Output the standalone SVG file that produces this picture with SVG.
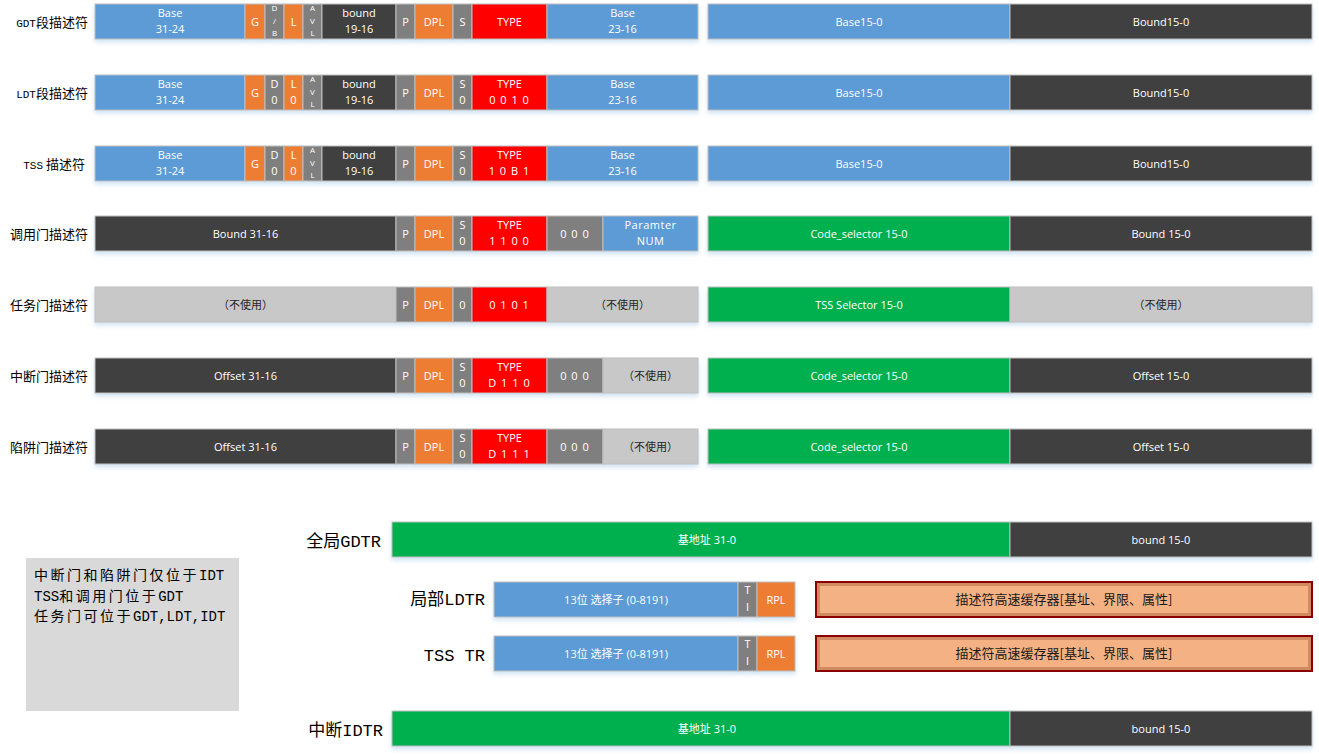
<svg xmlns="http://www.w3.org/2000/svg" width="1319" height="756" viewBox="0 0 1319 756">
<defs>
<style>
.c{stroke:#bfbfbf;stroke-width:1}
.blue{fill:#5b9bd5}.org{fill:#ed7d31}.gry{fill:#7f7f7f}.drk{fill:#404040}.red{fill:#ff0000}.lgt{fill:#c8c8c8}.grn{fill:#00b050}
.t{font-family:"Open Sans","Noto Sans CJK SC",sans-serif;font-size:11px;fill:#ffffff;text-anchor:middle}
.td{fill:#262626}
.tiny{font-size:8px}
.lbl{font-family:"Noto Sans CJK SC",sans-serif;font-size:13px;fill:#000000;text-anchor:end}
.m{font-family:"Liberation Mono",monospace;font-size:11px}
.big{font-family:"Liberation Mono","Noto Sans CJK SC",monospace;font-size:17px;fill:#000000;text-anchor:end}
.note{font-family:"Noto Sans CJK SC",sans-serif;font-size:14px;letter-spacing:2.5px;fill:#000000}
.nm{font-family:"Liberation Mono",monospace;font-size:14px;letter-spacing:0}
.cache{font-family:"Noto Sans CJK SC",sans-serif;font-size:13px;fill:#1a1a1a;text-anchor:middle}
</style>
<filter id="sh" x="-5%" y="-30%" width="110%" height="180%">
<feDropShadow dx="0" dy="3" stdDeviation="2" flood-color="#9dc3e6" flood-opacity="0.45"/>
</filter>
</defs>

<!-- Row 1 GDT -->
<g id="gdt-desc">
<text class="lbl" x="88" y="26.5"><tspan class="m">GDT</tspan>段描述符</text>
<g filter="url(#sh)">
<rect class="c blue" x="95" y="4" width="150" height="35"/>
<rect class="c org" x="245" y="4" width="20" height="35"/>
<rect class="c gry" x="265" y="4" width="19" height="35"/>
<rect class="c org" x="284" y="4" width="19" height="35"/>
<rect class="c gry" x="303" y="4" width="19" height="35"/>
<rect class="c drk" x="322" y="4" width="74" height="35"/>
<rect class="c gry" x="396" y="4" width="19" height="35"/>
<rect class="c org" x="415" y="4" width="38" height="35"/>
<rect class="c gry" x="453" y="4" width="19" height="35"/>
<rect class="c red" x="472" y="4" width="75" height="35"/>
<rect class="c blue" x="547" y="4" width="151" height="35"/>
<rect class="c blue" x="708" y="4" width="302" height="35"/>
<rect class="c drk" x="1010" y="4" width="302" height="35"/>
</g>
<text class="t" x="170" y="17.3">Base</text><text class="t" x="170" y="33">31-24</text>
<text class="t" x="255" y="25.5">G</text>
<text class="t tiny" x="274.5" y="11">D</text><text class="t tiny" x="274.5" y="23.5">/</text><text class="t tiny" x="274.5" y="36">B</text>
<text class="t" x="293.5" y="25.5">L</text>
<text class="t tiny" x="312.5" y="11">A</text><text class="t tiny" x="312.5" y="23.5">V</text><text class="t tiny" x="312.5" y="36">L</text>
<text class="t" x="359" y="17.3">bound</text><text class="t" x="359" y="33">19-16</text>
<text class="t" x="405.5" y="25.5">P</text>
<text class="t" x="434" y="25.5">DPL</text>
<text class="t" x="462.5" y="25.5">S</text>
<text class="t" x="509.5" y="25.5">TYPE</text>
<text class="t" x="622.5" y="17.3">Base</text><text class="t" x="622.5" y="33">23-16</text>
<text class="t" x="859" y="25.5">Base15-0</text>
<text class="t" x="1161" y="25.5">Bound15-0</text>
</g>

<!-- Row 2 LDT -->
<g id="ldt-desc">
<text class="lbl" x="88" y="97.5"><tspan class="m">LDT</tspan>段描述符</text>
<g filter="url(#sh)">
<rect class="c blue" x="95" y="75" width="150" height="35"/>
<rect class="c org" x="245" y="75" width="20" height="35"/>
<rect class="c gry" x="265" y="75" width="19" height="35"/>
<rect class="c org" x="284" y="75" width="19" height="35"/>
<rect class="c gry" x="303" y="75" width="19" height="35"/>
<rect class="c drk" x="322" y="75" width="74" height="35"/>
<rect class="c gry" x="396" y="75" width="19" height="35"/>
<rect class="c org" x="415" y="75" width="38" height="35"/>
<rect class="c gry" x="453" y="75" width="19" height="35"/>
<rect class="c red" x="472" y="75" width="75" height="35"/>
<rect class="c blue" x="547" y="75" width="151" height="35"/>
<rect class="c blue" x="708" y="75" width="302" height="35"/>
<rect class="c drk" x="1010" y="75" width="302" height="35"/>
</g>
<text class="t" x="170" y="88.3">Base</text><text class="t" x="170" y="104">31-24</text>
<text class="t" x="255" y="96.5">G</text>
<text class="t" x="274.5" y="88.3">D</text><text class="t" x="274.5" y="104">0</text>
<text class="t" x="293.5" y="88.3">L</text><text class="t" x="293.5" y="104">0</text>
<text class="t tiny" x="312.5" y="82">A</text><text class="t tiny" x="312.5" y="94.5">V</text><text class="t tiny" x="312.5" y="107">L</text>
<text class="t" x="359" y="88.3">bound</text><text class="t" x="359" y="104">19-16</text>
<text class="t" x="405.5" y="96.5">P</text>
<text class="t" x="434" y="96.5">DPL</text>
<text class="t" x="462.5" y="88.3">S</text><text class="t" x="462.5" y="104">0</text>
<text class="t" x="509.5" y="88.3">TYPE</text><text class="t" x="509.5" y="104" letter-spacing="1">0 0 1 0</text>
<text class="t" x="622.5" y="88.3">Base</text><text class="t" x="622.5" y="104">23-16</text>
<text class="t" x="859" y="96.5">Base15-0</text>
<text class="t" x="1161" y="96.5">Bound15-0</text>
</g>

<!-- Row 3 TSS -->
<g id="tss-desc">
<text class="lbl" x="85" y="168.5"><tspan class="m">TSS</tspan>  描述符</text>
<g filter="url(#sh)">
<rect class="c blue" x="95" y="146" width="150" height="35"/>
<rect class="c org" x="245" y="146" width="20" height="35"/>
<rect class="c gry" x="265" y="146" width="19" height="35"/>
<rect class="c org" x="284" y="146" width="19" height="35"/>
<rect class="c gry" x="303" y="146" width="19" height="35"/>
<rect class="c drk" x="322" y="146" width="74" height="35"/>
<rect class="c gry" x="396" y="146" width="19" height="35"/>
<rect class="c org" x="415" y="146" width="38" height="35"/>
<rect class="c gry" x="453" y="146" width="19" height="35"/>
<rect class="c red" x="472" y="146" width="75" height="35"/>
<rect class="c blue" x="547" y="146" width="151" height="35"/>
<rect class="c blue" x="708" y="146" width="302" height="35"/>
<rect class="c drk" x="1010" y="146" width="302" height="35"/>
</g>
<text class="t" x="170" y="159.3">Base</text><text class="t" x="170" y="175">31-24</text>
<text class="t" x="255" y="167.5">G</text>
<text class="t" x="274.5" y="159.3">D</text><text class="t" x="274.5" y="175">0</text>
<text class="t" x="293.5" y="159.3">L</text><text class="t" x="293.5" y="175">0</text>
<text class="t tiny" x="312.5" y="153">A</text><text class="t tiny" x="312.5" y="165.5">V</text><text class="t tiny" x="312.5" y="178">L</text>
<text class="t" x="359" y="159.3">bound</text><text class="t" x="359" y="175">19-16</text>
<text class="t" x="405.5" y="167.5">P</text>
<text class="t" x="434" y="167.5">DPL</text>
<text class="t" x="462.5" y="159.3">S</text><text class="t" x="462.5" y="175">0</text>
<text class="t" x="509.5" y="159.3">TYPE</text><text class="t" x="509.5" y="175" letter-spacing="1">1 0 B 1</text>
<text class="t" x="622.5" y="159.3">Base</text><text class="t" x="622.5" y="175">23-16</text>
<text class="t" x="859" y="167.5">Base15-0</text>
<text class="t" x="1161" y="167.5">Bound15-0</text>
</g>

<!-- Row 4 call gate -->
<g id="call-gate">
<text class="lbl" x="88" y="238.5">调用门描述符</text>
<g filter="url(#sh)">
<rect class="c drk" x="95" y="216" width="301" height="35"/>
<rect class="c gry" x="396" y="216" width="19" height="35"/>
<rect class="c org" x="415" y="216" width="38" height="35"/>
<rect class="c gry" x="453" y="216" width="19" height="35"/>
<rect class="c red" x="472" y="216" width="75" height="35"/>
<rect class="c gry" x="547" y="216" width="56" height="35"/>
<rect class="c blue" x="603" y="216" width="95" height="35"/>
<rect class="c grn" x="708" y="216" width="302" height="35"/>
<rect class="c drk" x="1010" y="216" width="302" height="35"/>
</g>
<text class="t" x="245.5" y="237.5">Bound 31-16</text>
<text class="t" x="405.5" y="237.5">P</text>
<text class="t" x="434" y="237.5">DPL</text>
<text class="t" x="462.5" y="229.3">S</text><text class="t" x="462.5" y="245">0</text>
<text class="t" x="509.5" y="229.3">TYPE</text><text class="t" x="509.5" y="245" letter-spacing="1">1 1 0 0</text>
<text class="t" x="575" y="237.5" letter-spacing="1">0 0 0</text>
<text class="t" x="650.5" y="229.3" letter-spacing="0.5">Paramter</text><text class="t" x="650.5" y="245" letter-spacing="0.5">NUM</text>
<text class="t" x="859" y="237.5">Code_selector 15-0</text>
<text class="t" x="1161" y="237.5">Bound 15-0</text>
</g>

<!-- Row 5 task gate -->
<g id="task-gate">
<text class="lbl" x="88" y="309.5">任务门描述符</text>
<g filter="url(#sh)">
<rect class="c lgt" x="95" y="287" width="301" height="35"/>
<rect class="c gry" x="396" y="287" width="19" height="35"/>
<rect class="c org" x="415" y="287" width="38" height="35"/>
<rect class="c gry" x="453" y="287" width="19" height="35"/>
<rect class="c red" x="472" y="287" width="75" height="35"/>
<rect class="c lgt" x="547" y="287" width="151" height="35"/>
<rect class="c grn" x="708" y="287" width="302" height="35"/>
<rect class="c lgt" x="1010" y="287" width="302" height="35"/>
</g>
<text class="t td" x="245.5" y="308.5">（不使用）</text>
<text class="t" x="405.5" y="308.5">P</text>
<text class="t" x="434" y="308.5">DPL</text>
<text class="t" x="462.5" y="308.5">0</text>
<text class="t" x="509.5" y="308.5" letter-spacing="1">0 1 0 1</text>
<text class="t td" x="622.5" y="308.5">（不使用）</text>
<text class="t" x="859" y="308.5">TSS Selector 15-0</text>
<text class="t td" x="1161" y="308.5">（不使用）</text>
</g>

<!-- Row 6 interrupt gate -->
<g id="int-gate">
<text class="lbl" x="88" y="380.5">中断门描述符</text>
<g filter="url(#sh)">
<rect class="c drk" x="95" y="358" width="301" height="35"/>
<rect class="c gry" x="396" y="358" width="19" height="35"/>
<rect class="c org" x="415" y="358" width="38" height="35"/>
<rect class="c gry" x="453" y="358" width="19" height="35"/>
<rect class="c red" x="472" y="358" width="75" height="35"/>
<rect class="c gry" x="547" y="358" width="56" height="35"/>
<rect class="c lgt" x="603" y="358" width="95" height="35"/>
<rect class="c grn" x="708" y="358" width="302" height="35"/>
<rect class="c drk" x="1010" y="358" width="302" height="35"/>
</g>
<text class="t" x="245.5" y="379.5">Offset 31-16</text>
<text class="t" x="405.5" y="379.5">P</text>
<text class="t" x="434" y="379.5">DPL</text>
<text class="t" x="462.5" y="371.3">S</text><text class="t" x="462.5" y="387">0</text>
<text class="t" x="509.5" y="371.3">TYPE</text><text class="t" x="509.5" y="387" letter-spacing="1">D 1 1 0</text>
<text class="t" x="575" y="379.5" letter-spacing="1">0 0 0</text>
<text class="t td" x="650.5" y="379.5">（不使用）</text>
<text class="t" x="859" y="379.5">Code_selector 15-0</text>
<text class="t" x="1161" y="379.5">Offset 15-0</text>
</g>

<!-- Row 7 trap gate -->
<g id="trap-gate">
<text class="lbl" x="88" y="451.5">陷阱门描述符</text>
<g filter="url(#sh)">
<rect class="c drk" x="95" y="429" width="301" height="35"/>
<rect class="c gry" x="396" y="429" width="19" height="35"/>
<rect class="c org" x="415" y="429" width="38" height="35"/>
<rect class="c gry" x="453" y="429" width="19" height="35"/>
<rect class="c red" x="472" y="429" width="75" height="35"/>
<rect class="c gry" x="547" y="429" width="56" height="35"/>
<rect class="c lgt" x="603" y="429" width="95" height="35"/>
<rect class="c grn" x="708" y="429" width="302" height="35"/>
<rect class="c drk" x="1010" y="429" width="302" height="35"/>
</g>
<text class="t" x="245.5" y="450.5">Offset 31-16</text>
<text class="t" x="405.5" y="450.5">P</text>
<text class="t" x="434" y="450.5">DPL</text>
<text class="t" x="462.5" y="442.3">S</text><text class="t" x="462.5" y="458">0</text>
<text class="t" x="509.5" y="442.3">TYPE</text><text class="t" x="509.5" y="458" letter-spacing="1">D 1 1 1</text>
<text class="t" x="575" y="450.5" letter-spacing="1">0 0 0</text>
<text class="t td" x="650.5" y="450.5">（不使用）</text>
<text class="t" x="859" y="450.5">Code_selector 15-0</text>
<text class="t" x="1161" y="450.5">Offset 15-0</text>
</g>

<!-- Note -->
<g id="note">
<rect x="26" y="558" width="213" height="153" fill="#d9d9d9"/>
<text class="note" x="34" y="580">中断门和陷阱门仅位于<tspan class="nm">IDT</tspan></text>
<text class="note" x="34" y="600.5"><tspan class="nm">TSS</tspan>和调用门位于<tspan class="nm">GDT</tspan></text>
<text class="note" x="34" y="620.5">任务门可位于<tspan class="nm">GDT,LDT,IDT</tspan></text>
</g>

<!-- GDTR -->
<g id="gdtr">
<text class="big" x="381" y="547">全局GDTR</text>
<g filter="url(#sh)">
<rect class="c grn" x="392" y="522" width="618" height="35"/>
<rect class="c drk" x="1010" y="522" width="302" height="35"/>
</g>
<text class="t" x="707" y="543.5">基地址 31-0</text>
<text class="t" x="1161" y="543.5">bound 15-0</text>
</g>

<!-- LDTR -->
<g id="ldtr">
<text class="big" x="485" y="605">局部LDTR</text>
<g filter="url(#sh)">
<rect class="c blue" x="494" y="582" width="244" height="35"/>
<rect class="c gry" x="738" y="582" width="19" height="35"/>
<rect class="c org" x="757" y="582" width="38" height="35"/>
</g>
<text class="t" x="616" y="603.5">13位 选择子 (0-8191)</text>
<text class="t" x="747.5" y="594">T</text><text class="t" x="747.5" y="611">I</text>
<text class="t" x="776" y="603.5">RPL</text>
<rect x="816" y="582" width="496" height="35" fill="#f4b183" stroke="#8b0000" stroke-width="2"/>
<rect x="818.5" y="584.5" width="491" height="30" fill="none" stroke="#a0522d" stroke-opacity="0.4" stroke-width="3"/>
<text class="cache" x="1064" y="604">描述符高速缓存器[基址、界限、属性]</text>
</g>

<!-- TR -->
<g id="tr">
<text class="big" x="485" y="661">TSS TR</text>
<g filter="url(#sh)">
<rect class="c blue" x="494" y="636" width="244" height="35"/>
<rect class="c gry" x="738" y="636" width="19" height="35"/>
<rect class="c org" x="757" y="636" width="38" height="35"/>
</g>
<text class="t" x="616" y="657.5">13位 选择子 (0-8191)</text>
<text class="t" x="747.5" y="648">T</text><text class="t" x="747.5" y="665">I</text>
<text class="t" x="776" y="657.5">RPL</text>
<rect x="816" y="636" width="496" height="35" fill="#f4b183" stroke="#8b0000" stroke-width="2"/>
<rect x="818.5" y="638.5" width="491" height="30" fill="none" stroke="#a0522d" stroke-opacity="0.4" stroke-width="3"/>
<text class="cache" x="1064" y="658">描述符高速缓存器[基址、界限、属性]</text>
</g>

<!-- IDTR -->
<g id="idtr">
<text class="big" x="383" y="736">中断IDTR</text>
<g filter="url(#sh)">
<rect class="c grn" x="392" y="711" width="618" height="35"/>
<rect class="c drk" x="1010" y="711" width="302" height="35"/>
</g>
<text class="t" x="707" y="732.5">基地址 31-0</text>
<text class="t" x="1161" y="732.5">bound 15-0</text>
</g>

<g id="connectors"/>
</svg>
